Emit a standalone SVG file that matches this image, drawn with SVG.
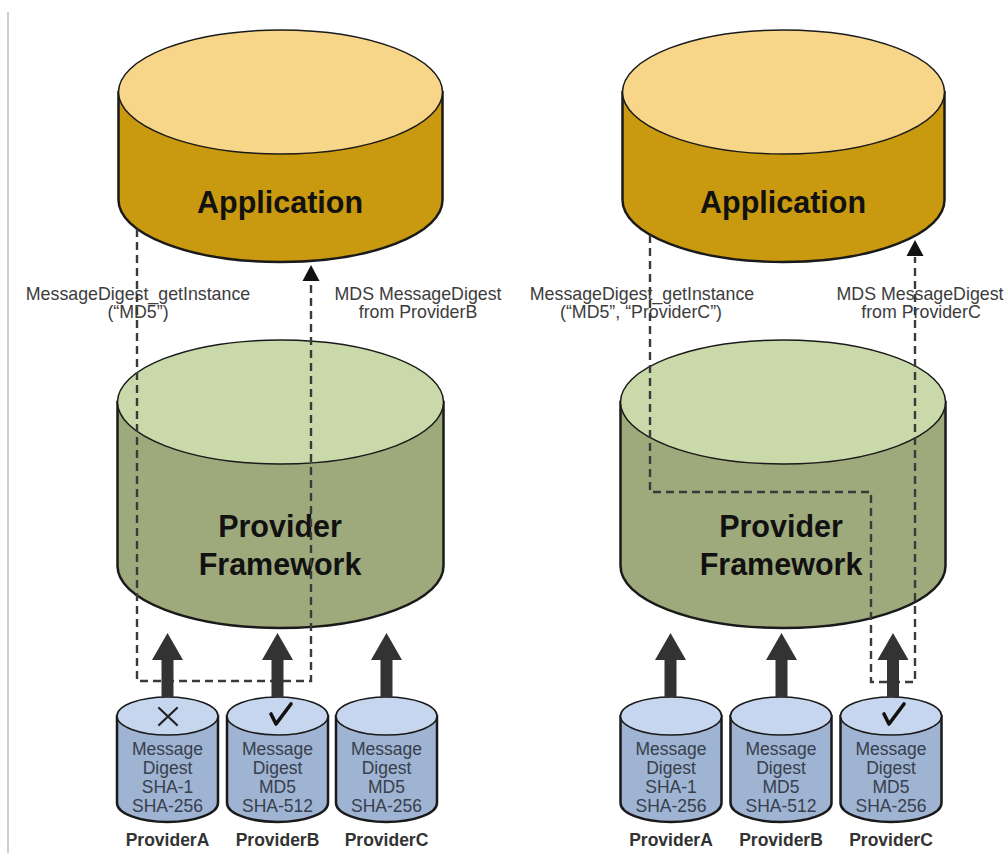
<svg xmlns="http://www.w3.org/2000/svg" width="1006" height="853" viewBox="0 0 1006 853">
<defs>
<style>
.app-side{fill:#c9990f;stroke:#1a1a1a;stroke-width:2.5}
.app-top{fill:#f7d68a;stroke:#1a1a1a;stroke-width:1.5}
.fw-side{fill:#9eaa7c;stroke:#1a1a1a;stroke-width:2.5}
.fw-top{fill:#c9d9a9;stroke:#1a1a1a;stroke-width:1.5}
.pv-side{fill:#9fb3d2;stroke:#1a1a1a;stroke-width:2.5}
.pv-top{fill:#c6d6ee;stroke:#1a1a1a;stroke-width:1.5}
.big{font-family:"Liberation Sans",Arial,sans-serif;font-weight:bold;font-size:30.5px;fill:#111;text-anchor:middle}
.lbl{font-family:"Liberation Sans",Arial,sans-serif;font-size:17.8px;fill:#3c3c3c;text-anchor:middle}
.inner{font-family:"Liberation Sans",Arial,sans-serif;font-size:17.5px;fill:#37404c;text-anchor:middle}
.pname{font-family:"Liberation Sans",Arial,sans-serif;font-weight:bold;font-size:17.5px;fill:#333;text-anchor:middle}
.dash{fill:none;stroke:#3a3a3a;stroke-width:2.4;stroke-dasharray:8 5}
.thick{fill:#333}
.mark{fill:none;stroke:#222;stroke-width:2.2;stroke-linecap:round;stroke-linejoin:round}
.check{fill:none;stroke:#111;stroke-width:3.6;stroke-linecap:round;stroke-linejoin:round}
</style>
</defs>
<rect width="1006" height="853" fill="#fff"/>
<line x1="8" y1="12" x2="8" y2="853" stroke="#cfcfcf" stroke-width="2"/>

<g id="app-left">
<path class="app-side" d="M118.5,92 V200 A162,62 0 0 0 442.5,200 V92 Z"/>
<ellipse class="app-top" cx="280.5" cy="92" rx="162" ry="62"/>
<text class="big" x="280" y="213">Application</text>
</g>
<g id="app-right">
<path class="app-side" d="M622.5,92 V200 A161,62 0 0 0 944.5,200 V92 Z"/>
<ellipse class="app-top" cx="783.5" cy="92" rx="161" ry="62"/>
<text class="big" x="783" y="213">Application</text>
</g>

<g id="fw-left">
<path class="fw-side" d="M117.5,402 V566 A163,62 0 0 0 443.5,566 V402 Z"/>
<ellipse class="fw-top" cx="280.5" cy="402" rx="163" ry="62"/>
<text class="big" x="280" y="537">Provider</text>
<text class="big" x="280" y="575">Framework</text>
</g>
<g id="fw-right">
<path class="fw-side" d="M620.5,402 V566 A162.5,62 0 0 0 945.5,566 V402 Z"/>
<ellipse class="fw-top" cx="783" cy="402" rx="162.5" ry="62"/>
<text class="big" x="781" y="537">Provider</text>
<text class="big" x="781" y="575">Framework</text>
</g>

<g id="providers-left">
<g id="pA-left">
<path class="pv-side" d="M117,716 V803 A50.5,19 0 0 0 218,803 V716 Z"/>
<ellipse class="pv-top" cx="167.5" cy="716" rx="50.5" ry="19"/>
<text class="inner" x="167.5" y="755">Message</text>
<text class="inner" x="167.5" y="774">Digest</text>
<text class="inner" x="167.5" y="793">SHA-1</text>
<text class="inner" x="167.5" y="812">SHA-256</text>
<text class="pname" x="167.5" y="846">ProviderA</text>
<path class="mark" d="M159,708 L177,725 M177,708 L159,725"/>
</g>
<g id="pB-left">
<path class="pv-side" d="M227,716 V803 A50.5,19 0 0 0 328,803 V716 Z"/>
<ellipse class="pv-top" cx="277.5" cy="716" rx="50.5" ry="19"/>
<text class="inner" x="277.5" y="755">Message</text>
<text class="inner" x="277.5" y="774">Digest</text>
<text class="inner" x="277.5" y="793">MD5</text>
<text class="inner" x="277.5" y="812">SHA-512</text>
<text class="pname" x="277.5" y="846">ProviderB</text>
<path class="check" d="M271,714 L276,724 L291,704"/>
</g>
<g id="pC-left">
<path class="pv-side" d="M336,716 V803 A50.5,19 0 0 0 437,803 V716 Z"/>
<ellipse class="pv-top" cx="386.5" cy="716" rx="50.5" ry="19"/>
<text class="inner" x="386.5" y="755">Message</text>
<text class="inner" x="386.5" y="774">Digest</text>
<text class="inner" x="386.5" y="793">MD5</text>
<text class="inner" x="386.5" y="812">SHA-256</text>
<text class="pname" x="386.5" y="846">ProviderC</text>
</g>
</g>

<g id="providers-right">
<g id="pA-right">
<path class="pv-side" d="M620.5,716 V803 A50.5,19 0 0 0 721.5,803 V716 Z"/>
<ellipse class="pv-top" cx="671" cy="716" rx="50.5" ry="19"/>
<text class="inner" x="671" y="755">Message</text>
<text class="inner" x="671" y="774">Digest</text>
<text class="inner" x="671" y="793">SHA-1</text>
<text class="inner" x="671" y="812">SHA-256</text>
<text class="pname" x="671" y="846">ProviderA</text>
</g>
<g id="pB-right">
<path class="pv-side" d="M730.5,716 V803 A50.5,19 0 0 0 831.5,803 V716 Z"/>
<ellipse class="pv-top" cx="781" cy="716" rx="50.5" ry="19"/>
<text class="inner" x="781" y="755">Message</text>
<text class="inner" x="781" y="774">Digest</text>
<text class="inner" x="781" y="793">MD5</text>
<text class="inner" x="781" y="812">SHA-512</text>
<text class="pname" x="781" y="846">ProviderB</text>
</g>
<g id="pC-right">
<path class="pv-side" d="M840.5,716 V803 A50.5,19 0 0 0 941.5,803 V716 Z"/>
<ellipse class="pv-top" cx="891" cy="716" rx="50.5" ry="19"/>
<text class="inner" x="891" y="755">Message</text>
<text class="inner" x="891" y="774">Digest</text>
<text class="inner" x="891" y="793">MD5</text>
<text class="inner" x="891" y="812">SHA-256</text>
<text class="pname" x="891" y="846">ProviderC</text>
<path class="check" d="M884,714 L889,724 L904,704"/>
</g>
</g>

<g id="connectors">
<path class="dash" d="M137,229 V681 H311 V282"/>
<path d="M311,265 L319.5,281 L302.5,281 Z" fill="#111"/>
<path class="dash" d="M650,235 V492 H871 V682 H915 V257"/>
<path d="M915,240 L923.5,256 L906.5,256 Z" fill="#111"/>
<path class="thick" d="M161.5,697 V660 H152 L167.5,633 L183,660 H173.5 V697 Z"/>
<path class="thick" d="M271.5,697 V660 H262 L277.5,633 L293,660 H283.5 V697 Z"/>
<path class="thick" d="M380.5,697 V660 H371 L386.5,633 L402,660 H392.5 V697 Z"/>
<path class="thick" d="M664.5,697 V660 H655 L670.5,633 L686,660 H676.5 V697 Z"/>
<path class="thick" d="M775.5,697 V660 H766 L781.5,633 L797,660 H787.5 V697 Z"/>
<path class="thick" d="M887,697 V660 H877.5 L893,633 L908.5,660 H899 V697 Z"/>
</g>

<g id="labels">
<text class="lbl" x="138" y="300">MessageDigest_getInstance</text>
<text class="lbl" x="138" y="318">(“MD5”)</text>
<text class="lbl" x="418" y="300">MDS MessageDigest</text>
<text class="lbl" x="418" y="318">from ProviderB</text>
<text class="lbl" x="642" y="300">MessageDigest_getInstance</text>
<text class="lbl" x="641" y="318">(“MD5”, “ProviderC”)</text>
<text class="lbl" x="920" y="300">MDS MessageDigest</text>
<text class="lbl" x="921" y="318">from ProviderC</text>
</g>
</svg>
